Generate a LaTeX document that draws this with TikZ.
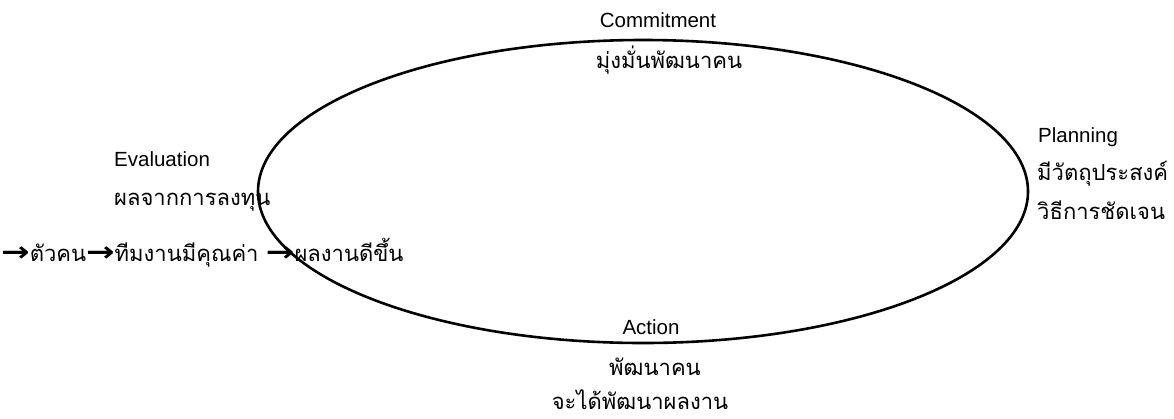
\documentclass[tikz,border=0pt]{standalone}
\usepackage{fontspec}
\usepackage{graphicx}
\setmainfont{Liberation Sans}
\newfontfamily\thai[Script=Thai]{Loma}
\newfontfamily\arrowfont{DejaVu Sans}
\newcommand{\arr}{\scalebox{1.55}[1.25]{\arrowfont\bfseries →}}
\usetikzlibrary{shapes.geometric}
\begin{document}
\begin{tikzpicture}[x=1pt,y=-1pt,
  lbl/.style={font=\fontsize{20.5}{24}\selectfont, inner sep=0pt},
  th/.style={font=\fontsize{22}{26}\selectfont\thai, inner sep=0pt}]
\useasboundingbox (0,0) rectangle (1174,418);
% the cycle
\node[draw, line width=2.6pt, ellipse, minimum width=770pt, minimum height=303pt, inner sep=0pt] (cycle) at (643,191.5) {};
% Commitment
\node[lbl, anchor=base] (commit) at (658,27) {Commitment};
\node[th, anchor=base] (commitT) at (669,68) {มุ่งมั่นพัฒนาคน};
% Planning
\node[lbl, anchor=base west] (plan) at (1038,142) {Planning};
\node[th, anchor=base west] (planA) at (1037,180) {มีวัตถุประสงค์};
\node[th, anchor=base west] (planB) at (1037,219) {วิธีการชัดเจน};
% Action
\node[lbl, anchor=base] (act) at (651,334) {Action};
\node[th, anchor=base] (actA) at (655,375) {พัฒนาคน};
\node[th, anchor=base] (actB) at (640,409) {จะได้พัฒนาผลงาน};
% Evaluation
\node[lbl, anchor=base west] (eval) at (114,166) {Evaluation};
\node[th, anchor=base west] (evalA) at (114,205) {ผลจากการลงทุน};
\node[th, anchor=base west] (evalB) at (1,261) {\arr ตัวคน\arr ทีมงานมีคุณค่า \arr ผลงานดีขึ้น};
\end{tikzpicture}
\end{document}
